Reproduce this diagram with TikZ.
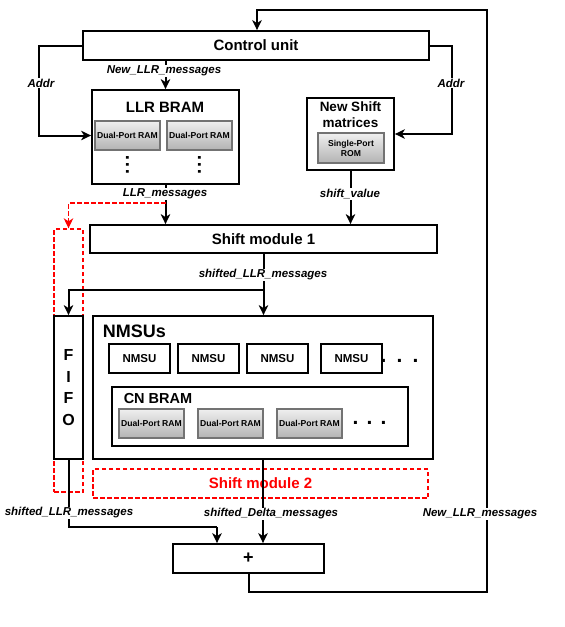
\documentclass[tikz,border=0pt]{standalone}
\usepackage{fontspec}
\setmainfont{Liberation Sans}
\usetikzlibrary{arrows.meta}
\newcommand{\fsz}[2]{\fontsize{#1}{#2}\selectfont}
\begin{document}
\begin{tikzpicture}[x=1pt,y=-1pt,
 box/.style={draw=black, line width=1.8pt, fill=white, inner sep=0pt, font=\bfseries\fsz{15}{18}},
 ram/.style={draw=black!55, line width=1.2pt, top color=black!6, bottom color=black!30, inner sep=0pt, minimum width=65pt, minimum height=29pt, font=\bfseries\fsz{8.6}{10}, align=center},
 nmsu/.style={box, minimum width=61pt, minimum height=29pt, font=\bfseries\fsz{11.5}{13}},
 reddash/.style={draw=red, line width=1.4pt, dash pattern=on 4.5pt off 2.5pt},
 conn/.style={draw=black, line width=2pt, -{Stealth[length=10pt,width=9.5pt,inset=3pt]}},
 wire/.style={draw=black, line width=2pt},
 lbl/.style={fill=white, inner sep=1pt, font=\bfseries\itshape\fsz{11.5}{13}},
 ttl/.style={inner sep=0pt, font=\bfseries\fsz{15}{18}},
 hdots/.style={inner sep=0pt, font=\bfseries\fsz{21}{21}},
 vdotsn/.style={inner sep=0pt, rotate=90, font=\bfseries\fsz{19}{19}},
 ]
\useasboundingbox (0,0) rectangle (565,627);
% boxes
\node[box, minimum width=346pt, minimum height=29pt] (ctrl) at (256,45.5) {Control unit};
\node[box, minimum width=147pt, minimum height=94pt] (llr) at (165.5,137) {};
\node[ttl] (llrt) at (165,107) {LLR BRAM};
\node[ram] (dp1) at (127.5,135.5) {Dual-Port RAM};
\node[ram] (dp2) at (199.5,135.5) {Dual-Port RAM};
\node[vdotsn] (vd1) at (127.5,164.5) {.\hspace{1.8pt}.\hspace{1.8pt}.};
\node[vdotsn] (vd2) at (199.5,164.5) {.\hspace{1.8pt}.\hspace{1.8pt}.};
\node[box, minimum width=87pt, minimum height=72pt] (shm) at (350.5,134) {};
\node[ttl, align=center, font=\bfseries\fsz{13.5}{16}] (shmt) at (350.5,115) {New Shift\\matrices};
\node[ram, minimum width=66pt, minimum height=30pt] (rom) at (351,148) {Single-Port\\ROM};
\node[box, minimum width=347pt, minimum height=28pt] (sm1) at (263.5,239) {Shift module 1};
\node[reddash, minimum width=29pt, minimum height=263pt, inner sep=0pt] (fifored) at (68.5,360.5) {};
\node[box, minimum width=29pt, minimum height=143pt, align=center, font=\bfseries\fsz{16}{21.8}] (fifo) at (68.5,387.5) {F\\I\\F\\O};
\node[box, minimum width=340pt, minimum height=143pt] (nmsus) at (263,387.5) {};
\node[ttl, font=\bfseries\fsz{18}{20}] (nmsust) at (134.5,331) {NMSUs};
\node[nmsu] (n1) at (139.5,358.5) {NMSU};
\node[nmsu] (n2) at (208.5,358.5) {NMSU};
\node[nmsu] (n3) at (277.5,358.5) {NMSU};
\node[nmsu] (n4) at (351.5,358.5) {NMSU};
\node[hdots] (hd1) at (399.5,361) {.\hspace{10.2pt}.\hspace{10.2pt}.};
\node[box, minimum width=296pt, minimum height=59pt] (cnb) at (260,416.5) {};
\node[ttl, font=\bfseries\fsz{14.5}{17}] (cnbt) at (158,399) {CN BRAM};
\node[ram] (cn1) at (151.5,423.5) {Dual-Port RAM};
\node[ram] (cn2) at (230.5,423.5) {Dual-Port RAM};
\node[ram] (cn3) at (309.5,423.5) {Dual-Port RAM};
\node[hdots] (hd2) at (369.5,423) {.\hspace{8.2pt}.\hspace{8.2pt}.};
\node[reddash, minimum width=335pt, minimum height=29pt, inner sep=0pt, text=red, font=\bfseries\fsz{15}{18}] (sm2) at (260.5,483.5) {Shift module 2};
\node[box, minimum width=151pt, minimum height=29pt, font=\bfseries\fsz{18}{20}] (plus) at (248.5,558.5) {+};
% coordinates
\coordinate (rs) at (165.5,203);
\coordinate (j) at (263.5,290);
\coordinate (fc) at (217,527);
\coordinate (fb1) at (487,592);
\coordinate (fb2) at (257,10);
% connectors
\draw[conn] (ctrl.west) -- ++(-43,0) |- (llr.west |- dp1.center);
\draw[conn] (ctrl.east) -- ++(22,0) |- (shm.east);
\draw[conn] (ctrl.south -| llr.north) -- (llr.north);
\draw[conn] (llr.south) -- (llr.south |- sm1.north);
\draw[conn] (shm.south) -- (shm.south |- sm1.north);
\draw[conn] (sm1.south) -- (sm1.south |- nmsus.north);
\draw[conn] (j) -| (fifo.north);
\draw[reddash, -{Stealth[length=10pt,width=9.5pt,inset=3pt]}, red] (rs) -| (fifored.north);
\draw[conn] (nmsus.south) -- (nmsus.south |- plus.north);
\draw[wire] (fifo.south) |- (fc);
\draw[conn] (fc) -- (fc |- plus.north);
\draw[conn] (plus.south) |- (fb1) -- (fb1 |- fb2) -- (fb2) -- (fb2 |- ctrl.north);
% labels
\node[lbl] (l1) at (41,83) {Addr};
\node[lbl] (l2) at (451,83) {Addr};
\node[lbl] (l3) at (164,71) {New\_LLR\_messages};
\node[lbl] (l4) at (165,194) {LLR\_messages};
\node[lbl] (l5) at (350,194) {shift\_value};
\node[lbl] (l6) at (263,275) {shifted\_LLR\_messages};
\node[lbl] (l7) at (69,513) {shifted\_LLR\_messages};
\node[lbl] (l8) at (271,514) {shifted\_Delta\_messages};
\node[lbl] (l9) at (480,514) {New\_LLR\_messages};
\end{tikzpicture}
\end{document}
